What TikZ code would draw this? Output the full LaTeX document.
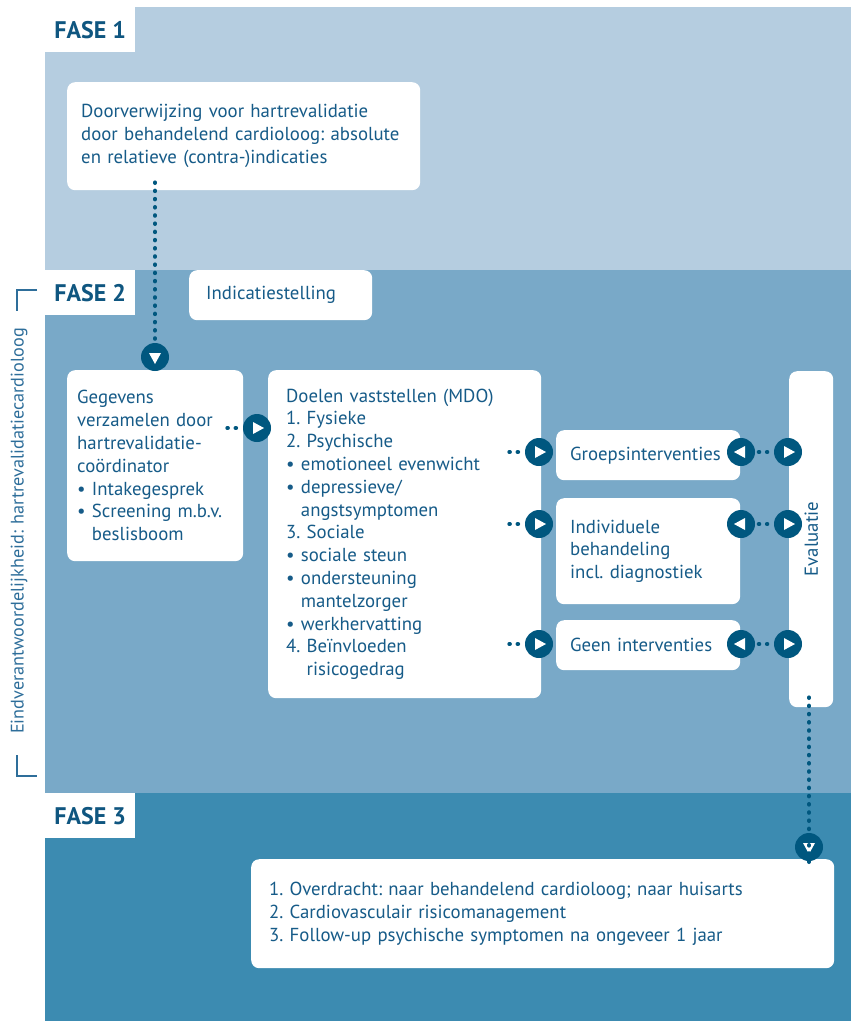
\documentclass[tikz,border=0pt]{standalone}
\usepackage{fontspec}
\setmainfont{PT Sans}
\definecolor{fase1}{HTML}{B5CDE0}
\definecolor{fase2}{HTML}{79A9C8}
\definecolor{fase3}{HTML}{3C8BB1}
\definecolor{donker}{HTML}{00577F}
\definecolor{tekst}{HTML}{165B88}
\definecolor{titel}{HTML}{0F5680}
\definecolor{haak}{HTML}{2E6E9A}

\begin{document}
\begin{tikzpicture}[x=1pt,y=-1pt]
    \tikzstyle{every node}=[font=\fontsize{18.8}{22.8}\selectfont\frenchspacing, text=tekst]
    \tikzstyle{blok}=[fill=white, rounded corners=8pt, align=left, inner ysep=0pt, anchor=north west]
    \tikzstyle{fase}=[fill=white, text=titel, font=\fontsize{24}{24}\selectfont\bfseries, minimum width=90pt, minimum height=45pt, inner sep=0pt, anchor=north west]
    \tikzstyle{knop}=[circle, fill=donker, minimum size=28pt, inner sep=0pt]
    \tikzstyle{pijlR}=[knop, path picture={\fill[white] ([shift={(-4pt,6pt)}]path picture bounding box.center) -- ++(0pt,-12pt) -- ++(11pt,6pt) -- cycle;}]
    \tikzstyle{pijlL}=[knop, path picture={\fill[white] ([shift={(4pt,6pt)}]path picture bounding box.center) -- ++(0pt,-12pt) -- ++(-11pt,6pt) -- cycle;}]
    \tikzstyle{pijlD}=[knop, path picture={\fill[white] ([shift={(-6pt,4pt)}]path picture bounding box.center) -- ++(12pt,0pt) -- ++(-6pt,-11pt) -- cycle;}]
    \tikzstyle{stip}=[donker, line width=4pt, line cap=round, dash pattern=on 0.6pt off 7.6pt]
    \def\b{\textbullet\ }
    \useasboundingbox (0,0) rectangle (851,1023);
    % fasen
    \fill[fase1] (45,7) rectangle (851,270);
    \fill[fase2] (45,270) rectangle (851,793);
    \fill[fase3] (45,793) rectangle (851,1021);
    \node[fase] (fase1) at (45,7) {FASE 1};
    \node[fase] (fase2) at (45,270) {FASE 2};
    \node[fase] (fase3) at (45,793) {FASE 3};
    % eindverantwoordelijkheid
    \draw[haak, line width=1.6pt] (37,290) -- (17,290) -- (17,311);
    \draw[haak, line width=1.6pt] (17,755) -- (17,776) -- (37,776);
    \node[rotate=90, text=haak, font=\fontsize{18.2}{20}\selectfont] (eind) at (19,531) {Eindverantwoordelijkheid: hartrevalidatiecardioloog};
    % blokken
    \node[blok, text width=325, inner xsep=14, minimum height=108] (verwijzing) at (67,82)
      {Doorverwijzing voor hartrevalidatie\\door behandelend cardioloog: absolute\\en relatieve (contra-)indicaties};
    \node[blok, text width=149, inner xsep=17, minimum height=50] (indicatie) at (189,270) {Indicatiestelling};
    \node[blok, text width=156, inner xsep=10, minimum height=191] (gegevens) at (67,370)
      {Gegevens\\verzamelen door\\hartrevalidatie-\\coördinator\\\b Intakegesprek\\\b Screening m.b.v.\\\phantom{\b}beslisboom};
    \node[blok, text width=237, inner xsep=18, minimum height=328] (doelen) at (268,370)
      {Doelen vaststellen (MDO)\\1. Fysieke\\2. Psychische\\\b emotioneel evenwicht\\\b depressieve/\\\phantom{\b}angstsymptomen\\3. Sociale\\\b sociale steun\\\b ondersteuning\\\phantom{\b}mantelzorger\\\b werkhervatting\\4. Beïnvloeden\\\phantom{4. }risicogedrag};
    \node[blok, text width=156, inner xsep=14, minimum height=50] (groep) at (556,430) {Groepsinterventies};
    \node[blok, text width=156, inner xsep=14, minimum height=106] (indiv) at (556,498)
      {Individuele\\behandeling\\incl. diagnostiek};
    \node[blok, text width=156, inner xsep=14, minimum height=50] (geen) at (556,620) {Geen interventies};
    \node[blok, minimum width=44, minimum height=336, inner sep=0pt] (eval) at (789,371) {};
    \node[rotate=90] (evaltekst) at (eval.center) {Evaluatie};
    \node[blok, text width=547, inner xsep=18, minimum height=109] (overdracht) at (251,859)
      {1. Overdracht: naar behandelend cardioloog; naar huisarts\\2. Cardiovasculair risicomanagement\\3. Follow-up psychische symptomen na ongeveer 1 jaar};
    % pijlen
    \node[pijlD] (naarGegevens) at (155,357) {};
    \draw[stip] ([yshift=8pt]verwijzing.south -| naarGegevens) -- (naarGegevens.north);
    \node[pijlR] (naarDoelen) at (257,428) {};
    \draw[stip] ([xshift=-15.5pt]naarDoelen.west) -- ([xshift=-6.5pt]naarDoelen.west);
    \foreach \y/\naam in {452/groep, 524/indiv, 644/geen} {
      \node[pijlR] (naar\naam) at (539,\y) {};
      \node[pijlL] (terug\naam) at (741,\y) {};
      \node[pijlR] (eval\naam) at (788,\y) {};
      \draw[stip] ([xshift=-15.5pt]naar\naam.west) -- ([xshift=-6.5pt]naar\naam.west);
      \draw[stip] ([xshift=3.5pt]terug\naam.east) -- ([xshift=-6.5pt]eval\naam.west);
    }
    \node[pijlD] (naarFase3) at (809,847) {};
    \draw[stip] ([yshift=10pt]eval.south -| naarFase3) -- ([yshift=-3pt]naarFase3.south);
  \end{tikzpicture}
\end{document}
